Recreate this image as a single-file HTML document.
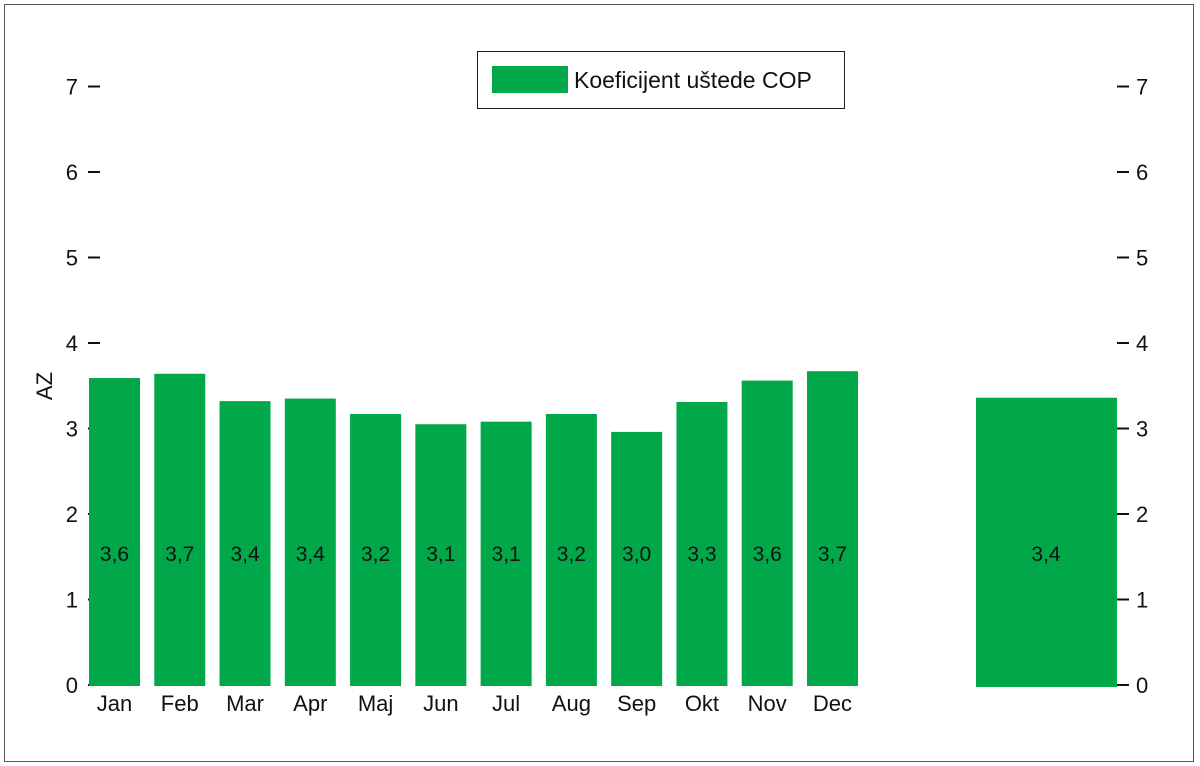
<!DOCTYPE html>
<html><head><meta charset="utf-8"><style>
body{margin:0;background:#fff;}
svg{display:block;font-family:"Liberation Sans",sans-serif;}
</style></head><body>
<svg id="chart" width="1200" height="766">
<rect x="4.5" y="4.5" width="1189" height="757" fill="#fff" stroke="#555"/>
<g id="axes"></g><g id="bars"></g>
<g>
<rect x="477.5" y="51.5" width="367" height="57" fill="#fff" stroke="#222"/>
<rect x="492" y="66" width="76" height="27" fill="#00a84a"/>
<text x="574" y="88" font-size="23" fill="#111">Koeficijent uštede COP</text>
</g>
<text transform="translate(52,386) rotate(-90)" text-anchor="middle" font-size="22" fill="#111">AZ</text>
</svg>
<script>
const months=["Jan","Feb","Mar","Apr","Maj","Jun","Jul","Aug","Sep","Okt","Nov","Dec"];
const values=[3.59,3.64,3.32,3.35,3.17,3.05,3.08,3.17,2.96,3.31,3.56,3.67];
const valueLabels=["3,6","3,7","3,4","3,4","3,2","3,1","3,1","3,2","3,0","3,3","3,6","3,7"];
const totalValue=3.36;
const totalLabel="3,4";
const yTicks=[0,1,2,3,4,5,6,7];
const NS="http://www.w3.org/2000/svg";
const y0=685,unit=85.5;
const y=v=>y0-v*unit;
const xb=i=>89+i*65.27;
const bw=51;
function mk(tag,attrs,parent,txt){const e=document.createElementNS(NS,tag);for(const k in attrs)e.setAttribute(k,attrs[k]);if(txt!==undefined)e.textContent=txt;parent.appendChild(e);return e;}
const ax=document.getElementById('axes'),bg=document.getElementById('bars');
yTicks.forEach(t=>{
 let l=mk('line',{x1:88,x2:100,y1:y(t),y2:y(t),stroke:'#111','stroke-width':2},ax);
 
 
 let a=mk('text',{x:78,y:y(t)+8,'text-anchor':'end','font-size':22,fill:'#111'},ax,t);
 
 
 let r=mk('line',{x1:1117,x2:1129,y1:y(t),y2:y(t),stroke:'#111','stroke-width':2},ax);
 
 
 let b=mk('text',{x:1136,y:y(t)+8,'font-size':22,fill:'#111'},ax,t);
 
 
});
months.forEach((m,i)=>{
 let r=mk('rect',{x:xb(i),y:y(values[i]),width:bw,height:y0-y(values[i])+1,fill:'#00a84a'},bg);
 
 
 let t=mk('text',{x:xb(i)+bw/2,y:561,'text-anchor':'middle','font-size':21,fill:'#111'},bg,valueLabels[i]);
 
 
 let c=mk('text',{x:xb(i)+bw/2,y:711,'text-anchor':'middle','font-size':22,fill:'#111'},bg,m);
 
 
});
let tb=mk('rect',{x:976,y:y(totalValue),width:141,height:y0-y(totalValue)+2,fill:'#00a84a'},bg);


let tl=mk('text',{x:1046,y:561,'text-anchor':'middle','font-size':21,fill:'#111'},bg,totalLabel);


</script>
</body></html>
